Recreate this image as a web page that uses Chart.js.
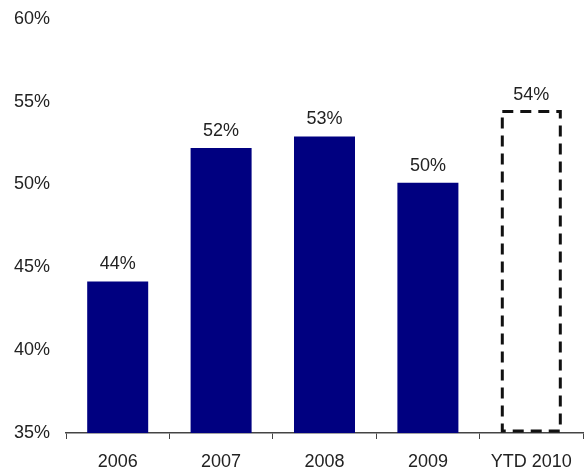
<!DOCTYPE html>
<html>
<head>
<meta charset="utf-8">
<script src="https://cdn.jsdelivr.net/npm/chart.js@4"></script>
<style>
  html, body { margin: 0; padding: 0; background: #fff; }
  #wrap { width: 588px; height: 473px; }
</style>
</head>
<body>
<div id="wrap"><canvas id="chart1"></canvas></div>
<script>
  var years = ["2006", "2007", "2008", "2009", "YTD 2010"];
  var shares = [44.15, 52.2, 52.9, 50.1, 54.4];
  var dashedIndex = 4;
  var yMin = 35, yMax = 60, yStep = 5;

  var fontFamily = "'Liberation Sans', Arial, sans-serif";

  var barColors = shares.map(function (v, i) {
    return i === dashedIndex ? "rgba(0,0,0,0)" : "#000080";
  });

  // value labels over each bar, plus the dashed outline for the YTD bar
  var barExtras = {
    id: "barExtras",
    afterDatasetsDraw: function (chart) {
      var ctx = chart.ctx;
      var meta = chart.getDatasetMeta(0);
      var bottom = chart.chartArea.bottom;
      ctx.save();
      meta.data.forEach(function (bar, i) {
        var p = bar.getProps(["x", "y", "base", "width"], true);
        if (i === dashedIndex) {
          var base = Math.min(p.base, bottom);
          ctx.strokeStyle = "#111";
          ctx.lineWidth = 3;
          ctx.setLineDash([11, 7]);
          ctx.strokeRect(p.x - p.width / 2 + 1.5, p.y, p.width - 3, base - p.y - 2);
          ctx.setLineDash([]);
        }
        ctx.fillStyle = "#222";
        ctx.font = "18px " + fontFamily;
        ctx.textAlign = "center";
        ctx.textBaseline = "bottom";
        ctx.fillText(Math.round(shares[i]) + "%", p.x, p.y - 8);
      });
      ctx.restore();
    }
  };

  var ctx = document.getElementById("chart1").getContext("2d");
  var myChart = new Chart(ctx, {
    type: "bar",
    data: {
      labels: years,
      datasets: [
        {
          data: shares,
          backgroundColor: barColors,
          borderWidth: 0,
          barPercentage: 0.59,
          categoryPercentage: 1,
        },
      ],
    },
    plugins: [barExtras],
    options: {
      responsive: true,
      maintainAspectRatio: false,
      animation: false,
      layout: {
        padding: { top: 5, right: 5, left: 0, bottom: 0 },
      },
      plugins: {
        legend: { display: false },
        tooltip: { enabled: false },
      },
      scales: {
        x: {
          offset: true,
          afterFit: function (scale) {
            scale.height = 40;
          },
          grid: {
            display: true,
            drawOnChartArea: false,
            drawTicks: true,
            tickLength: 6,
            offset: true,
            color: "#444",
          },
          border: { display: true, color: "#444", width: 1.5 },
          ticks: {
            color: "#222",
            font: { family: fontFamily, size: 18 },
            padding: 12,
          },
        },
        y: {
          min: yMin,
          max: yMax,
          afterFit: function (scale) {
            scale.width = 66;
          },
          grid: { display: false },
          border: { display: false },
          ticks: {
            stepSize: yStep,
            color: "#222",
            padding: 8,
            font: { family: fontFamily, size: 18 },
            callback: function (v) {
              return v + "%";
            },
          },
        },
      },
    },
  });
</script>
</body>
</html>
